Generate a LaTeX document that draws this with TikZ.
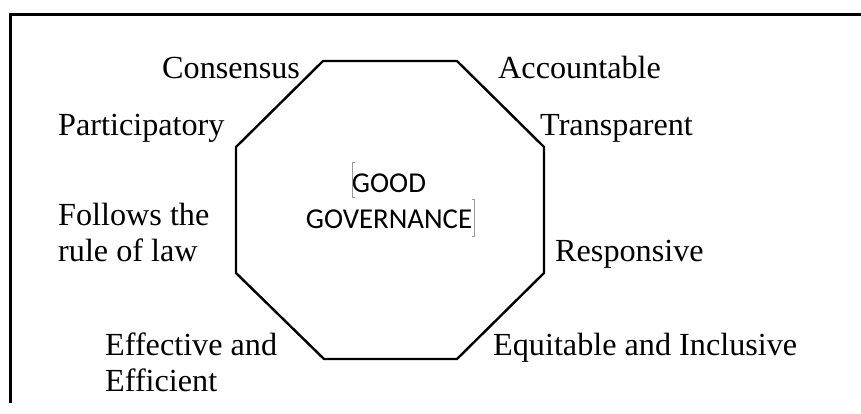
\documentclass[tikz,border=0pt]{standalone}
\usepackage{fontspec}
\setmainfont{Liberation Serif}
\newfontfamily\calib{Carlito}
\begin{document}
\begin{tikzpicture}[x=1pt,y=-1pt,
  lbl/.style={anchor=base west, inner sep=0pt, font=\fontsize{32.2}{36}\selectfont},
  frameline/.style={line width=3pt},
  octline/.style={line width=2.4pt, line join=miter},
  cursor/.style={draw=gray!80, line width=0.8pt}]
\useasboundingbox (0,0) rectangle (861,414);
% frame
\draw[frameline] (10.3,403) -- (10.3,14.3) -- (861,14.3);
% octagon
\coordinate (v1) at (323,61);
\coordinate (v2) at (457,61);
\coordinate (v3) at (544,147);
\coordinate (v4) at (544,273);
\coordinate (v5) at (457,359);
\coordinate (v6) at (324,359);
\coordinate (v7) at (236,273);
\coordinate (v8) at (236,147);
\draw[octline] (v1) -- (v2) -- (v3) -- (v4) -- (v5) -- (v6) -- (v7) -- (v8) -- cycle;
% centre text
\node[inner sep=0pt] (gg) at (389,202.8) {\calib\fontsize{28.8}{36}\selectfont\begin{tabular}{@{}c@{}}GOOD\\GOVERNANCE\end{tabular}};
\draw[cursor] (354.5,162) -- (352.3,162) -- (352.3,197.5) -- (354.5,197.5);
\draw[cursor] (471.8,199) -- (474,199) -- (474,236) -- (471.8,236);
% labels
\node[lbl] (consensus) at (162,79) {Consensus};
\node[lbl] (accountable) at (498,79) {Accountable};
\node[lbl] (participatory) at (58,136) {Participatory};
\node[lbl] (transparent) at (540,136) {Transparent};
\node[lbl] (follows) at (58,225) {Follows the};
\node[lbl] (rule) at (58,261) {rule of law};
\node[lbl] (responsive) at (555,261) {Responsive};
\node[lbl] (effective) at (105,355) {Effective and};
\node[lbl] (efficient) at (105,391) {Efficient};
\node[lbl] (equitable) at (493,355) {Equitable and Inclusive};
\end{tikzpicture}
\end{document}
